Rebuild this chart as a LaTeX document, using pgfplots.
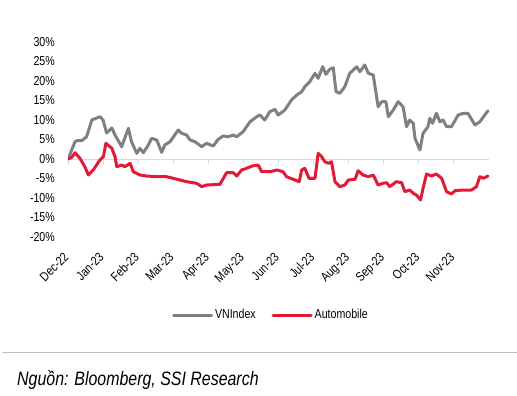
\documentclass[border=0pt]{standalone}
\usepackage{fontspec}
\setmainfont{Liberation Sans}[FakeStretch=0.82]
\usepackage{pgfplots}
\pgfplotsset{compat=1.18}
\definecolor{vngray}{RGB}{128,128,128}
\definecolor{autored}{RGB}{226,26,56}
\definecolor{zerogray}{RGB}{217,217,217}
\definecolor{rulegray}{RGB}{191,191,191}
\begin{document}
\begin{tikzpicture}[x=1bp,y=1bp]
\path[use as bounding box] (0,0) rectangle (517,395);
\begin{axis}[
  at={(68bp,158bp)}, anchor=south west,
  scale only axis, width=421bp, height=195bp,
  xmin=0, xmax=12, ymin=-20, ymax=30,
  axis x line*=middle, axis y line*=left,
  x axis line style={draw=zerogray, line width=1bp, -},
  y axis line style={draw=none},
  hide obscured x ticks=false,
  xtick={0,1,2,3,4,5,6,7,8,9,10,11},
  xticklabels={Dec-22,Jan-23,Feb-23,Mar-23,Apr-23,May-23,Jun-23,Jul-23,Aug-23,Sep-23,Oct-23,Nov-23},
  ytick={-20,-15,-10,-5,0,5,10,15,20,25,30},
  yticklabels={-20\%,-15\%,-10\%,-5\%,0\%,5\%,10\%,15\%,20\%,25\%,30\%},
  x tick style={draw=zerogray, line width=1bp},
  y tick style={draw=none},
  xtick align=outside,
  major tick length=5bp,
  xticklabel shift=84bp,
  xticklabel style={xshift=-5bp, yshift=-2bp, rotate=45, anchor=north east, font=\fontsize{13}{15}\selectfont, inner sep=1bp},
  yticklabel style={anchor=east, font=\fontsize{13}{15}\selectfont, inner sep=1bp, xshift=-12bp},
  legend columns=2,
  legend style={draw=none, fill=none, at={(0.482,-0.40)}, anchor=center,
    font=\fontsize{13}{15}\selectfont,
    /tikz/every even column/.append style={column sep=14bp}},
  legend image code/.code={\draw[#1] (0bp,0bp) -- (38bp,0bp);},
]
\addplot[draw=vngray, line width=3bp, line join=round, line cap=round] coordinates {
(0.01,0.18) (0.20,4.44) (0.26,4.69) (0.39,4.69) (0.53,5.72) (0.68,10.0) (0.91,10.85)
(1.00,10.0) (1.10,6.67) (1.25,7.95) (1.34,6.15) (1.53,3.15) (1.72,7.87) (1.81,4.44)
(1.96,1.46) (2.05,2.74) (2.15,1.62) (2.29,3.59) (2.38,5.31) (2.53,4.87) (2.67,1.72)
(2.76,3.59) (2.91,4.44) (3.14,7.44) (3.24,6.59) (3.38,6.15) (3.48,4.87) (3.62,4.44)
(3.81,3.15) (3.95,4.03) (4.14,3.33) (4.28,5.05) (4.42,5.90) (4.57,5.72) (4.71,6.15)
(4.81,5.72) (4.99,7.0) (5.09,8.28) (5.19,9.56) (5.38,10.85) (5.47,11.28) (5.61,10.0)
(5.75,12.13) (5.90,12.74) (5.99,11.28) (6.18,12.56) (6.37,15.13) (6.52,16.41)
(6.66,17.26) (6.75,18.54) (6.89,19.82) (7.04,21.97) (7.13,20.69) (7.26,23.67)
(7.35,21.72) (7.46,23.0) (7.56,23.41) (7.64,17.26) (7.75,16.85) (7.89,18.54)
(8.03,21.97) (8.23,23.67) (8.32,22.38) (8.46,24.1) (8.56,21.97) (8.70,21.54)
(8.84,13.41) (8.94,14.69) (9.06,14.69) (9.13,10.85) (9.27,12.56) (9.41,14.69)
(9.55,13.41) (9.65,8.28) (9.74,10.0) (9.84,9.15) (9.89,5.31) (10.03,2.31) (10.12,6.59)
(10.26,8.28) (10.31,10.44) (10.39,9.15) (10.50,11.72) (10.60,9.56) (10.69,10.0)
(10.79,8.28) (10.93,8.28) (11.12,11.28) (11.26,11.72) (11.40,11.72) (11.60,8.72)
(11.74,9.56) (11.97,12.38)
};
\addlegendentry{VNIndex}
\addplot[draw=autored, line width=3bp, line join=round, line cap=round] coordinates {
(0.01,0.0) (0.11,0.44) (0.20,1.62) (0.34,0.18) (0.48,-1.97) (0.58,-4.10) (0.72,-2.82)
(0.91,-0.26) (1.01,0.59) (1.08,4.03) (1.25,2.74) (1.34,0.59) (1.39,-1.97) (1.53,-1.54)
(1.62,-1.97) (1.77,-1.10) (1.86,-3.26) (2.05,-4.10) (2.24,-4.36) (2.53,-4.54)
(2.81,-4.54) (3.00,-4.95) (3.38,-5.82) (3.67,-6.23) (3.81,-7.10) (3.95,-6.67)
(4.33,-6.49) (4.52,-3.51) (4.71,-3.51) (4.81,-4.36) (4.95,-2.82) (5.09,-2.38)
(5.25,-1.79) (5.42,-1.54) (5.52,-3.26) (5.75,-3.26) (5.95,-2.82) (6.13,-3.26)
(6.23,-4.54) (6.47,-5.38) (6.59,-5.82) (6.66,-2.82) (6.75,-2.38) (6.87,-4.95)
(7.04,-4.95) (7.13,1.46) (7.23,0.59) (7.32,-0.69) (7.42,-1.10) (7.51,-0.69)
(7.61,-5.82) (7.75,-7.10) (7.89,-6.67) (7.99,-5.38) (8.18,-5.21) (8.27,-3.0)
(8.41,-4.10) (8.56,-4.54) (8.70,-4.10) (8.84,-6.67) (8.98,-6.23) (9.08,-6.08)
(9.17,-7.10) (9.36,-5.82) (9.51,-6.08) (9.60,-8.38) (9.74,-7.95) (9.84,-8.79)
(9.93,-9.23) (10.05,-10.51) (10.12,-7.51) (10.22,-3.85) (10.36,-4.36) (10.50,-3.85)
(10.65,-4.95) (10.79,-8.38) (10.93,-8.97) (11.03,-8.13) (11.26,-7.95) (11.50,-7.95)
(11.64,-7.10) (11.74,-4.54) (11.83,-4.95) (11.97,-4.36)
};
\addlegendentry{Automobile}
\end{axis}
\draw[rulegray, line width=1bp] (2,43) -- (517,43);
\node[anchor=base west, inner sep=0pt, font=\fontsize{19.5}{22}\selectfont\itshape] at (17,10) {Nguồn: Bloomberg, SSI Research};
\end{tikzpicture}
\end{document}
